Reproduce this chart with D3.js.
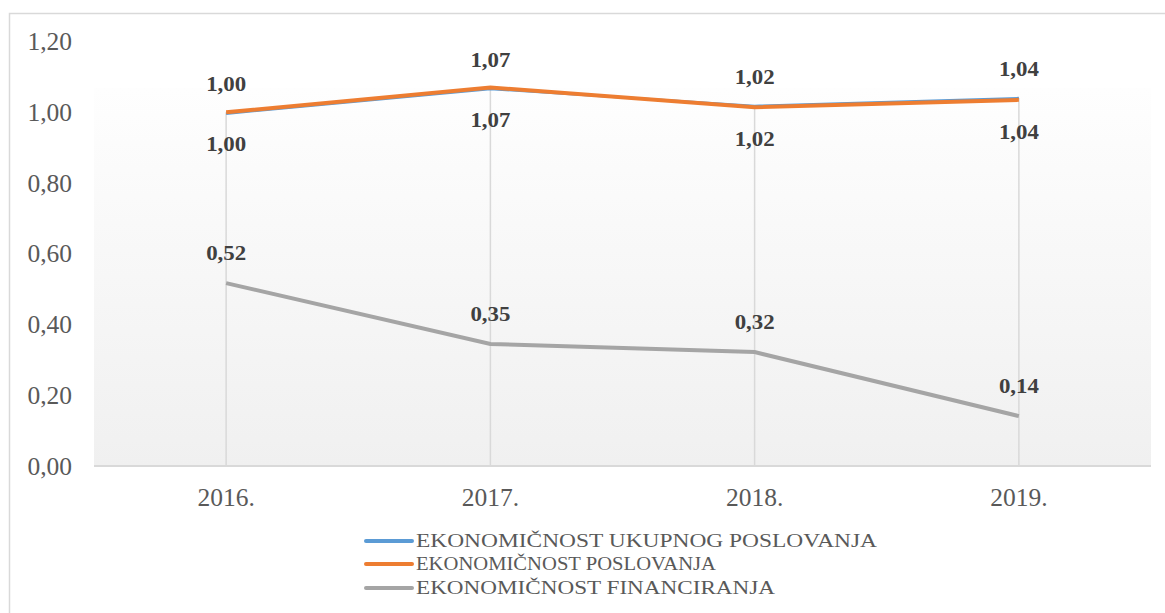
<!DOCTYPE html>
<html>
<head>
<meta charset="utf-8">
<script src="https://cdn.jsdelivr.net/npm/d3@7"></script>
<style>
  body { margin: 0; background: #fff; }
  svg text { font-family: "Liberation Serif", Tinos, "Times New Roman", "DejaVu Serif", serif; }
</style>
</head>
<body>
<div id="chart"></div>
<script>
// chart data
const years = ["2016.", "2017.", "2018.", "2019."];
const seriesNames = [
    "EKONOMIČNOST UKUPNOG POSLOVANJA",
    "EKONOMIČNOST POSLOVANJA",
    "EKONOMIČNOST FINANCIRANJA"
];
const ukupnog = [0.996, 1.066, 1.018, 1.04];
const poslovanja = [1.0, 1.07, 1.014, 1.035];
const financiranja = [0.517, 0.345, 0.322, 0.141];
const labelsUkupnog = ["1,00", "1,07", "1,02", "1,04"];
const labelsPoslovanja = ["1,00", "1,07", "1,02", "1,04"];
const labelsFinanciranja = ["0,52", "0,35", "0,32", "0,14"];
const yTicks = [0, 0.2, 0.4, 0.6, 0.8, 1.0, 1.2];

const colors = ["#5B9BD5", "#ED7D31", "#A5A5A5"];
const widths = [2.5, 4, 4];

const W = 1165, H = 613;
const plot = { left: 94, right: 1151, top: 88, bottom: 466 };

const svg = d3.select("#chart").append("svg")
    .attr("width", W)
    .attr("height", H);

// outer chart border
svg.append("rect")
    .attr("x", 9.5).attr("y", 13.5)
    .attr("width", W).attr("height", H)
    .attr("fill", "#fff")
    .attr("stroke", "#d9d9d9")
    .attr("stroke-width", 1.5);

const grad = svg.append("defs").append("linearGradient")
    .attr("id", "plotGrad")
    .attr("x1", 0).attr("y1", 0).attr("x2", 0).attr("y2", 1);
grad.append("stop").attr("offset", "0%").attr("stop-color", "#fefefe");
grad.append("stop").attr("offset", "100%").attr("stop-color", "#f0f0f0");

svg.append("rect")
    .attr("x", plot.left).attr("y", plot.top)
    .attr("width", plot.right - plot.left)
    .attr("height", plot.bottom - plot.top)
    .attr("fill", "url(#plotGrad)");

const x = d3.scalePoint()
    .domain(years)
    .range([plot.left, plot.right])
    .padding(0.5);

const y = d3.scaleLinear()
    .domain([0, 1.2])
    .range([plot.bottom, 41.5]);

// drop lines
const seriesAll = [ukupnog, poslovanja, financiranja];
svg.append("g")
    .selectAll("line")
    .data(years)
    .join("line")
    .attr("x1", d => x(d)).attr("x2", d => x(d))
    .attr("y1", (d, i) => y(d3.max(seriesAll, s => s[i])))
    .attr("y2", plot.bottom)
    .attr("stroke", "#d9d9d9")
    .attr("stroke-width", 1.5);

// x axis line
svg.append("line")
    .attr("x1", plot.left).attr("x2", plot.right)
    .attr("y1", plot.bottom).attr("y2", plot.bottom)
    .attr("stroke", "#d9d9d9")
    .attr("stroke-width", 2);

// y tick labels
const fmt = v => d3.format(".2f")(v).replace(".", ",");
svg.append("g")
    .selectAll("text")
    .data(yTicks)
    .join("text")
    .attr("x", 72)
    .attr("y", d => y(d))
    .attr("dy", "0.34em")
    .attr("text-anchor", "end")
    .attr("font-size", 25.5)
    .attr("fill", "#595959")
    .text(fmt);

// x tick labels
svg.append("g")
    .selectAll("text")
    .data(years)
    .join("text")
    .attr("x", d => x(d))
    .attr("y", 497)
    .attr("dy", "0.34em")
    .attr("text-anchor", "middle")
    .attr("font-size", 25.5)
    .attr("fill", "#595959")
    .text(d => d);

// lines
const line = d3.line()
    .x((d, i) => x(years[i]))
    .y(d => y(d));

seriesAll.forEach((s, k) => {
    svg.append("path")
        .datum(s)
        .attr("d", line)
        .attr("fill", "none")
        .attr("stroke", colors[k])
        .attr("stroke-width", widths[k]);
});

// data labels: blue above, orange below, grey above
const labelSets = [
    { vals: ukupnog, labels: labelsUkupnog, dy: -29.5 },
    { vals: poslovanja, labels: labelsPoslovanja, dy: 32 },
    { vals: financiranja, labels: labelsFinanciranja, dy: -30 }
];
labelSets.forEach(set => {
    svg.append("g")
        .selectAll("text")
        .data(set.vals)
        .join("text")
        .attr("x", (d, i) => x(years[i]))
        .attr("y", d => y(d) + set.dy)
        .attr("dy", "0.34em")
        .attr("text-anchor", "middle")
        .attr("font-size", 21)
        .attr("font-weight", "bold")
        .attr("fill", "#404040")
        .attr("textLength", 40)
        .attr("lengthAdjust", "spacingAndGlyphs")
        .text((d, i) => set.labels[i]);
});

// legend
const legend = svg.append("g");
const legendY = [541, 564, 588];
const legendLen = [461, 300, 359];
seriesNames.forEach((name, k) => {
    legend.append("line")
        .attr("x1", 366).attr("x2", 412)
        .attr("y1", legendY[k]).attr("y2", legendY[k])
        .attr("stroke", colors[k])
        .attr("stroke-width", 4)
        .attr("stroke-linecap", "round");
    legend.append("text")
        .attr("x", 416)
        .attr("y", legendY[k])
        .attr("dy", "0.34em")
        .attr("font-size", 19)
        .attr("fill", "#595959")
        .attr("textLength", legendLen[k])
        .attr("lengthAdjust", "spacingAndGlyphs")
        .text(name);
});
</script>
</body>
</html>
